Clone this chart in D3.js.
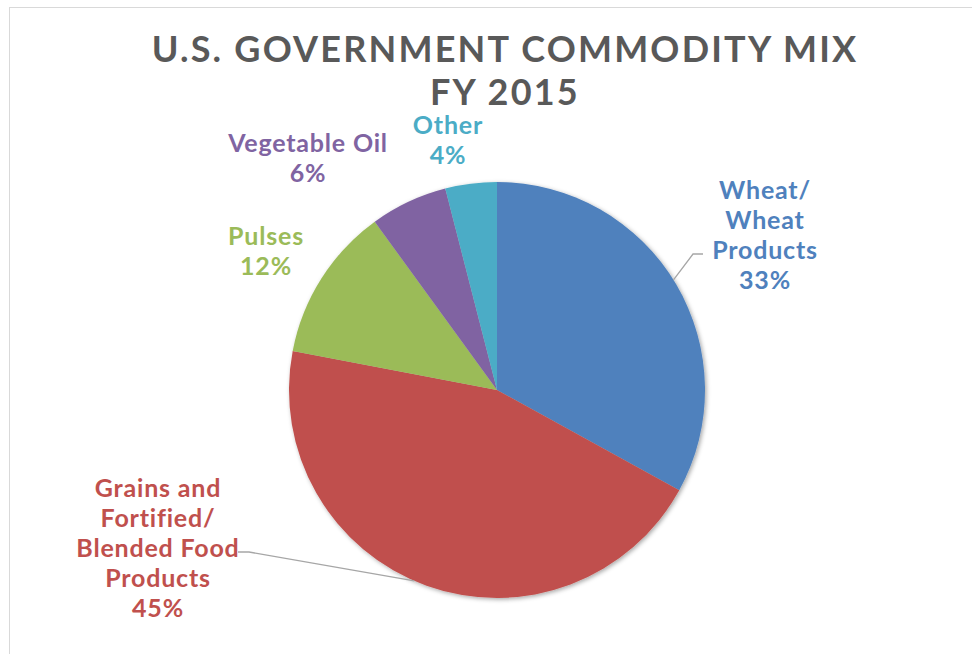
<!DOCTYPE html>
<html lang="en">
<head>
<meta charset="UTF-8">
<title>U.S. Government Commodity Mix FY 2015</title>
<script src="https://cdn.jsdelivr.net/npm/d3@7/dist/d3.min.js"></script>
<style>
  body { margin: 0; background: #fff; }
  svg { display: block; font-family: Lato, "Open Sans", sans-serif; }
</style>
</head>
<body>
<div class="pie-container"></div>
<script>
    const width = 972
    const height = 654

    // data
    const categories = ['Wheat/ Wheat Products', 'Grains and Fortified/ Blended Food Products', 'Pulses', 'Vegetable Oil', 'Other']
    const shares = [33, 45, 12, 6, 4]
    const labelLines = [
        ['Wheat/', 'Wheat', 'Products'],
        ['Grains and', 'Fortified/', 'Blended Food', 'Products'],
        ['Pulses'],
        ['Vegetable Oil'],
        ['Other']
    ]
    const titleLines = ['U.S. GOVERNMENT COMMODITY MIX', 'FY 2015']

    const colors = ['#4f81bd', '#c0504d', '#9bbb59', '#8064a2', '#4bacc6']

    const cx = 497
    const cy = 390
    const radius = 208

    // label anchor (centre x, first baseline y) and leader line layout
    const labelLayout = [
        { x: 765, y: 199, leader: true },
        { x: 158, y: 497, leader: true },
        { x: 266, y: 245 },
        { x: 308, y: 152 },
        { x: 448, y: 134 }
    ]
    const lineHeight = 30

    const data = categories.map((c, i) => ({ name: c, value: shares[i], lines: labelLines[i], color: colors[i], layout: labelLayout[i] }))

    const svg = d3.select('.pie-container')
        .append('svg')
        .attr('width', width)
        .attr('height', height)

    // chart area border
    svg.append('rect')
        .attr('x', 9.5).attr('y', 7.5)
        .attr('width', width + 10).attr('height', height + 10)
        .attr('fill', '#fff')
        .attr('stroke', '#d9d9d9')
        .attr('stroke-width', 1)

    const defs = svg.append('defs')
    const filter = defs.append('filter').attr('id', 'shadow')
        .attr('x', '-10%').attr('y', '-10%').attr('width', '120%').attr('height', '120%')
    filter.append('feDropShadow')
        .attr('dx', 1.5).attr('dy', 1.5).attr('stdDeviation', 2)
        .attr('flood-color', '#000').attr('flood-opacity', 0.35)

    // title
    svg.append('text')
        .attr('x', 505)
        .attr('text-anchor', 'middle')
        .attr('fill', '#595959')
        .attr('font-size', '36px')
        .attr('font-weight', 'bold')
        .attr('letter-spacing', '2.2px')
        .selectAll('tspan')
        .data(titleLines)
        .enter()
        .append('tspan')
        .attr('x', 505)
        .attr('y', (d, i) => 62 + i * 43)
        .text(d => d)

    const pie = d3.pie().sort(null).value(d => d.value)
    const arc = d3.arc().innerRadius(0).outerRadius(radius)
    const arcs = pie(data)

    const g = svg.append('g')
        .attr('transform', `translate(${cx}, ${cy})`)

    g.append('g')
        .attr('filter', 'url(#shadow)')
        .selectAll('path')
        .data(arcs)
        .enter()
        .append('path')
        .attr('d', arc)
        .attr('fill', d => d.data.color)

    // leader lines
    const leaderData = arcs.filter(d => d.data.layout.leader)
    svg.selectAll('.leader')
        .data(leaderData)
        .enter()
        .append('polyline')
        .attr('class', 'leader')
        .attr('fill', 'none')
        .attr('stroke', '#a6a6a6')
        .attr('stroke-width', 1.3)
        .attr('points', d => {
            const L = d.data.layout
            const right = L.x > cx
            const nLines = d.data.lines.length
            // attach to the last name line, next to the text
            const ly = right ? L.y + (nLines - 1) * lineHeight - 5 : L.y + 2 * lineHeight - 5
            const lx = right ? L.x - 72 : L.x + 91
            const hx = right ? lx + 10 : lx - 11
            // point on the pie edge toward the label
            const ang = Math.atan2(ly + 25 - cy, (right ? lx - 18 : lx + 167) - cx)
            const px = cx + radius * Math.cos(ang)
            const py = cy + radius * Math.sin(ang)
            return [[px, py], [lx, ly], [hx, ly]].map(p => p.join(',')).join(' ')
        })

    // labels
    const labels = svg.selectAll('.label')
        .data(arcs)
        .enter()
        .append('text')
        .attr('class', 'label')
        .attr('text-anchor', 'middle')
        .attr('font-size', '25px')
        .attr('font-weight', 'bold')
        .attr('letter-spacing', '0.8px')
        .attr('fill', d => d.data.color)

    labels.selectAll('tspan')
        .data(d => d.data.lines.concat([d.data.value + '%']).map((t, i) => ({ t, i, L: d.data.layout })))
        .enter()
        .append('tspan')
        .attr('x', d => d.L.x)
        .attr('y', d => d.L.y + d.i * lineHeight)
        .text(d => d.t)
</script>
</body>
</html>
